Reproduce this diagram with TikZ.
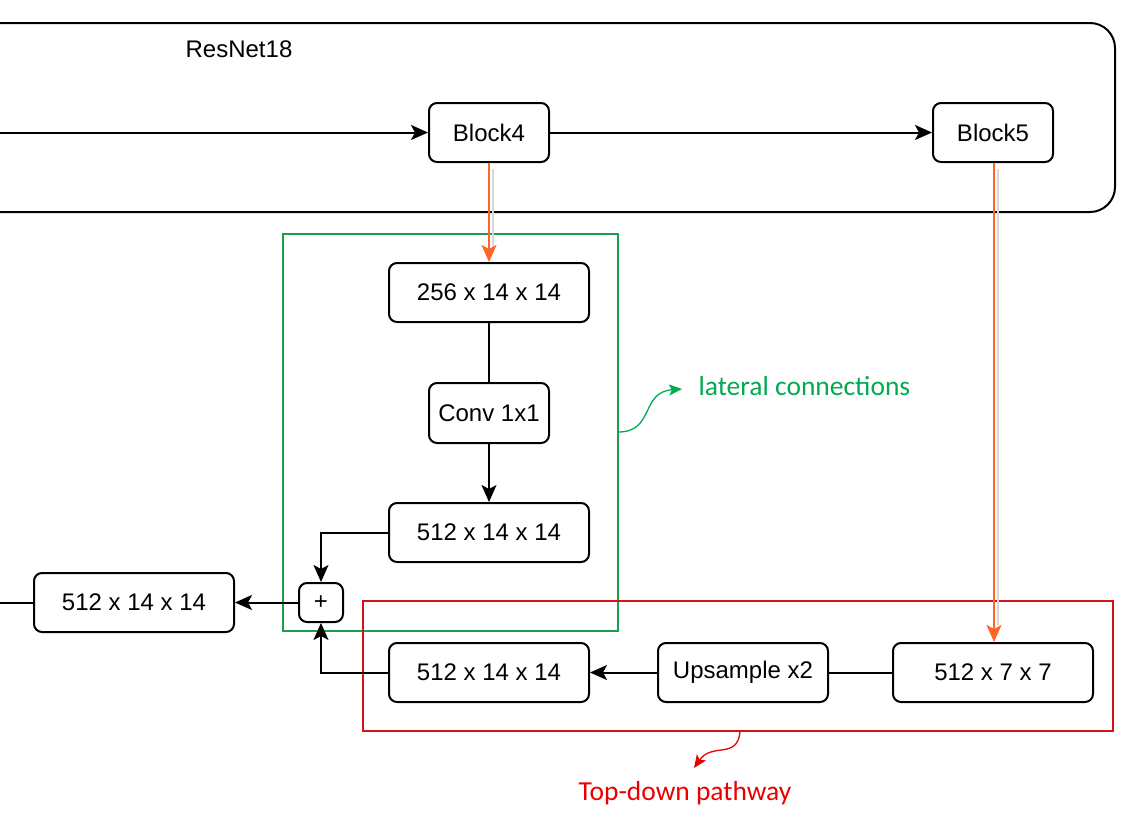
\documentclass[tikz,border=0pt]{standalone}
\usepackage{fontspec}
\setmainfont{Liberation Sans}
\newfontfamily\calib{Carlito}
\usetikzlibrary{arrows.meta}
\definecolor{gbox}{RGB}{30,158,74}
\definecolor{gtext}{RGB}{0,170,80}
\definecolor{rbox}{RGB}{210,20,25}
\definecolor{rtext}{RGB}{235,0,0}
\definecolor{orng}{RGB}{255,100,40}
\definecolor{shadowgray}{RGB}{215,215,215}
\tikzset{
  box/.style={draw, rounded corners=8pt, line width=2pt, minimum height=59pt, inner sep=0pt, font=\fontsize{24}{28}\selectfont},
  conn/.style={line width=2pt, -{Stealth[length=17pt,width=15pt,inset=4pt]}},
  plain/.style={line width=2pt},
  oarrow/.style={orng, line width=2pt, -{Stealth[length=17pt,width=15pt,inset=4pt]}},
  shadowline/.style={draw=shadowgray, line width=2.5pt},
  note/.style={line width=1.3pt, -{Stealth[length=13pt,width=11pt,inset=3pt]}},
}
\begin{document}
\begin{tikzpicture}[x=1pt,y=-1pt]
\useasboundingbox (0,0) rectangle (1140,828);
% ResNet18 container
\draw[line width=2pt, rounded corners=25pt] (0,23) -- (1115,23) -- (1115,212) -- (0,212);
\node[font=\fontsize{24}{28}\selectfont] (title) at (239,49) {ResNet18};
% nodes
\node[box, minimum width=120pt] (b4) at (489,132.5) {Block4};
\node[box, minimum width=120pt] (b5) at (993,132.5) {Block5};
\node[box, minimum width=200pt] (f256) at (489,292.5) {256 x 14 x 14};
\node[box, minimum width=120pt, minimum height=60pt] (conv) at (489,413) {Conv 1x1};
\node[box, minimum width=200pt] (f512a) at (489,532.5) {512 x 14 x 14};
\node[box, minimum width=200pt] (f512l) at (134,602.5) {512 x 14 x 14};
\node[box, minimum width=44pt, minimum height=39pt] (plus) at (321,602.5) {+};
\node[box, minimum width=200pt] (f512b) at (489,672.5) {512 x 14 x 14};
\node[box, minimum width=170pt] (up) at (743,672.5) {Upsample x2};
\node[box, minimum width=200pt] (f7) at (993,672.5) {512 x 7 x 7};
% group boxes
\draw[gbox, line width=1.8pt] (283,234) rectangle (618,631);
\draw[rbox, line width=1.8pt] (363,601) rectangle (1113,731);
% coordinates
\coordinate (inL) at (0,132.5);
\coordinate (outL) at (0,602.5);
% connectors
\draw[conn] (inL) -- (b4.west);
\draw[conn] (b4.east) -- (b5.west);
\draw[shadowline] (493,169) -- (493,250);
\draw[oarrow] (b4.south) -- (f256.north);
\draw[shadowline] (998,169) -- (998,625);
\draw[oarrow] ([xshift=1pt]b5.south) -- ([xshift=1pt]f7.north);
\draw[plain] (f256.south) -- (conv.north);
\draw[conn] (conv.south) -- (f512a.north);
\draw[conn] (f512a.west) -| (plus.north);
\draw[conn] (f512b.west) -| (plus.south);
\draw[conn] (plus.west) -- (f512l.east);
\draw[plain] (f512l.west) -- (outL);
\draw[plain] (f7.west) -- (up.east);
\draw[conn] (up.west) -- (f512b.east);
% annotations
\coordinate (gA) at (618,432);
\coordinate (rA) at (740,731);
\node[anchor=west, text=gtext, font=\calib\fontsize{27.5}{32}\selectfont] (lat) at (695,386) {lateral connections};
\node[text=rtext, font=\calib\fontsize{27.5}{32}\selectfont] (td) at (685,793) {Top-down pathway};
\draw[note, gtext] (gA) .. controls (655,432) and (640,392) .. (682,389);
\draw[note, rtext] (rA) .. controls (738,760) and (712,742) .. (694,768);
\end{tikzpicture}
\end{document}
